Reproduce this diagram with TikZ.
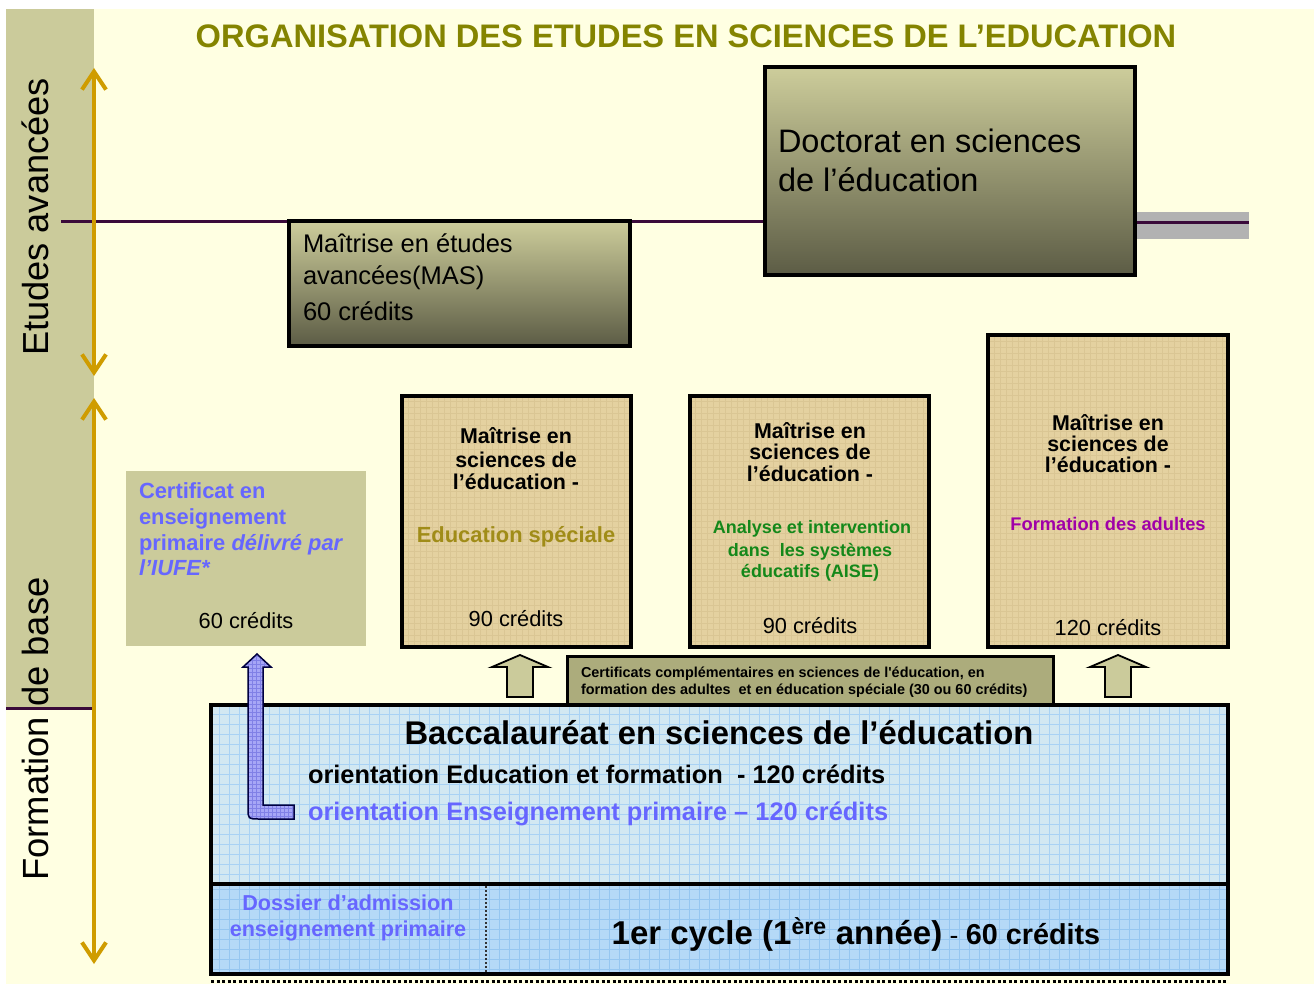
\documentclass[tikz,border=0pt]{standalone}
\usepackage{fontspec}
\setmainfont{Liberation Sans}
\usetikzlibrary{arrows.meta}
\pgfdeclarelayer{back}
\pgfdeclarelayer{lines}
\pgfsetlayers{back,lines,main}
\definecolor{bgyellow}{HTML}{FFFFE2}
\definecolor{band}{HTML}{CBCB9B}
\definecolor{olivetitle}{HTML}{848400}
\definecolor{gold}{HTML}{CF9C00}
\definecolor{plum}{HTML}{3A0A3A}
\definecolor{gtop}{HTML}{CDCD9B}
\definecolor{gbot}{HTML}{5C5C45}
\definecolor{papyrus}{HTML}{E4D1A0}
\definecolor{papyrusline}{HTML}{CDB682}
\definecolor{violetblue}{HTML}{6666FF}
\definecolor{edgold}{HTML}{A08C18}
\definecolor{aisegreen}{HTML}{14881A}
\definecolor{adultmag}{HTML}{A000A8}
\definecolor{certcomp}{HTML}{ACAC7C}
\definecolor{baccblue}{HTML}{D2E8F2}
\definecolor{baccgrid}{HTML}{A9D2F4}
\definecolor{cycleblue}{HTML}{B5D9F7}
\definecolor{cyclegrid}{HTML}{96C6F0}
\definecolor{arrowviolet}{HTML}{A6A6F6}
\definecolor{arrowgrid}{HTML}{8080E6}
\definecolor{grayband}{HTML}{B2B2B2}
\newcommand{\fsz}[1]{\fontsize{#1}{#1}\selectfont}
\tikzset{
  lbl/.style={inner sep=0pt, outer sep=0pt},
  boxbase/.style={draw=black, outer sep=0pt, inner sep=0pt, anchor=north west},
  darkbox/.style={boxbase, line width=4.5pt, top color=gtop, bottom color=gbot},
  papbox/.style={boxbase, line width=4pt, fill=papyrus,
    path picture={\draw[papyrusline, line width=0.5pt, step=6pt, opacity=0.4]
      (path picture bounding box.south west) grid (path picture bounding box.north east);}},
  certbox/.style={boxbase, draw=none, fill=band},
  compbox/.style={boxbase, line width=3pt, fill=certcomp},
  baccbox/.style={boxbase, line width=4pt, fill=baccblue,
    path picture={\draw[baccgrid, line width=0.6pt, step=10pt]
      (path picture bounding box.south west) grid (path picture bounding box.north east);}},
  cyclebox/.style={boxbase, line width=4pt, fill=cycleblue,
    path picture={\draw[cyclegrid, line width=0.6pt, step=10pt]
      (path picture bounding box.south west) grid (path picture bounding box.north east);}},
  goldarrow/.style={gold, line width=4pt, line cap=round,
    {Straight Barb[length=18pt,width=24pt]}-{Straight Barb[length=18pt,width=24pt]}},
  blockarrow/.style={fill=band, draw=black, line width=1.8pt, line join=miter},
  larrow/.style={fill=arrowviolet, draw=black!75!blue, line width=1.5pt,
    path picture={\draw[arrowgrid, line width=0.4pt, step=4pt]
      (path picture bounding box.south west) grid (path picture bounding box.north east);}},
  plumline/.style={plum, line width=3pt},
  dark/.style={lbl, font=\fsz{25.5}},
  mtitle/.style={lbl, anchor=base, font=\bfseries\fsz{21.4}},
  credit/.style={lbl, anchor=base, font=\fsz{21.8}},
}
\begin{document}
\begin{tikzpicture}[x=1pt,y=-1pt]
\useasboundingbox (0,0) rectangle (1314,984);
\begin{pgfonlayer}{back}
  \fill[white] (0,0) rectangle (1314,984);
  \fill[bgyellow] (6,9) rectangle (1314,984);
  \fill[band] (6,9) rectangle (94,708);
\end{pgfonlayer}

% title
\node[lbl, font=\bfseries\fsz{32.6}, text=olivetitle] (title) at (686,36)
  {ORGANISATION DES ETUDES EN SCIENCES DE L’EDUCATION};

% side labels
\node[lbl, rotate=90, font=\fsz{36.2}] (etav) at (35,217) {Etudes avancées};
\node[lbl, rotate=90, font=\fsz{36.4}] (fbase) at (35,729) {Formation de base};

% Doctorat
\node[darkbox, minimum width=370pt, minimum height=208pt] (doc) at (765,67) {};
\node[dark, anchor=base west, font=\fsz{32.5}] (doct1) at (778,153) {Doctorat en sciences};
\node[dark, anchor=base west, font=\fsz{32.5}] (doct2) at (778,192) {de l’éducation};

% MAS
\node[darkbox, minimum width=341pt, minimum height=125pt] (mas) at (289,221) {};
\node[dark, anchor=base west] (mas1) at (303,253) {Maîtrise en études};
\node[dark, anchor=base west] (mas2) at (303,284) {avancées(MAS)};
\node[dark, anchor=base west] (mas3) at (303,320) {60 crédits};

% horizontal purple lines
\coordinate (hlstart) at (61,222);
\coordinate (hlend) at (1249,223);
\coordinate (bandline) at (6,708);
\begin{pgfonlayer}{lines}
  \fill[grayband] (doc.east |- 0,212) rectangle (1249,239);
  \draw[plumline] (hlstart) -- (hlstart -| doc.west);
  \draw[plumline] (hlend -| doc.east) -- (hlend);
  \draw[plumline] (bandline) -- (92,708);
\end{pgfonlayer}

% gold arrows
\coordinate (ga1) at (94,68);
\coordinate (ga2) at (94,376);
\coordinate (gb1) at (94,398);
\coordinate (gb2) at (94,964);
\draw[goldarrow] (ga1) -- (ga2);
\draw[goldarrow] (gb1) -- (gb2);

% Certificat
\node[certbox, minimum width=240pt, minimum height=175pt] (cert) at (126,471) {};
\begin{scope}[every node/.style={lbl, anchor=base west, font=\bfseries\fsz{21.9}, text=violetblue}]
  \node (cert1) at (139,498) {Certificat en};
  \node (cert2) at (139,524) {enseignement};
  \node (cert3) at (139,550) {primaire \textit{délivré par}};
  \node (cert4) at (139,575) {\textit{l’IUFE*}};
\end{scope}
\node[credit] (cert5) at (246,628) {60 crédits};

% Maitrise boxes
\node[papbox, minimum width=229pt, minimum height=251pt] (m1) at (402,396) {};
\node[papbox, minimum width=239pt, minimum height=251pt] (m2) at (690,396) {};
\node[papbox, minimum width=240pt, minimum height=312pt] (m3) at (988,335) {};

\node[mtitle] (m1a) at (516,443) {Maîtrise en};
\node[mtitle] (m1b) at (516,467) {sciences de};
\node[mtitle] (m1c) at (516,489) {l’éducation -};
\node[mtitle, text=edgold, font=\bfseries\fsz{21.9}] (m1d) at (516,542) {Education spéciale};
\node[credit] (m1e) at (516,626) {90 crédits};

\node[mtitle] (m2a) at (810,438) {Maîtrise en};
\node[mtitle] (m2b) at (810,459) {sciences de};
\node[mtitle] (m2c) at (810,481) {l’éducation -};
\begin{scope}[every node/.style={lbl, anchor=base, font=\bfseries\fsz{18}, text=aisegreen}]
  \node (m2d) at (812,533) {Analyse et intervention};
  \node (m2e) at (810,556) {dans\ \ les systèmes};
  \node (m2f) at (810,577) {éducatifs (AISE)};
\end{scope}
\node[credit] (m2g) at (810,633) {90 crédits};

\node[mtitle] (m3a) at (1108,430) {Maîtrise en};
\node[mtitle] (m3b) at (1108,451) {sciences de};
\node[mtitle] (m3c) at (1108,472) {l’éducation -};
\node[lbl, anchor=base, font=\bfseries\fsz{18.3}, text=adultmag] (m3d) at (1108,530) {Formation des adultes};
\node[credit] (m3e) at (1108,635) {120 crédits};

% Certificats complementaires
\node[compbox, minimum width=486pt, minimum height=49pt] (comp) at (567,656) {};
\node[lbl, anchor=base west, font=\bfseries\fsz{14.4}] (comp1) at (581,677)
  {Certificats complémentaires en sciences de l\textquotesingle éducation, en};
\node[lbl, anchor=base west, font=\bfseries\fsz{14.4}] (comp2) at (581,694)
  {formation des adultes\ \ et en éducation spéciale (30 ou 60 crédits)};

% block arrows
\coordinate (aw1) at (520,655);
\coordinate (aw2) at (1118,655);
\foreach \c in {aw1,aw2}{
  \draw[blockarrow] (\c) -- ++(28,12) -- ++(-15,0) -- ++(0,30) -- ++(-26,0)
    -- ++(0,-30) -- ++(-15,0) -- cycle;
}

% Baccalaureat
\node[baccbox, minimum width=1017pt, minimum height=179pt] (bacc) at (211,705) {};
\node[lbl, anchor=base, font=\bfseries\fsz{32.8}] (bacc1) at (719,744)
  {Baccalauréat en sciences de l’éducation};
\node[lbl, anchor=base west, font=\bfseries\fsz{25.4}] (bacc2) at (308,783)
  {orientation Education et formation\ \ - 120 crédits};
\node[lbl, anchor=base west, font=\bfseries\fsz{25.4}, text=violetblue] (bacc3) at (308,820)
  {orientation Enseignement primaire – 120 crédits};

% 1er cycle
\node[cyclebox, minimum width=1017pt, minimum height=90pt] (cyc) at (211,884) {};
\coordinate (div) at (486,886);
\draw[black!80, line width=2pt, dash pattern=on 2pt off 2pt] (div) -- (div |- cyc.south);
\node[lbl, anchor=base, font=\bfseries\fsz{21.6}, text=violetblue] (dos1) at (348,910) {Dossier d’admission};
\node[lbl, anchor=base, font=\bfseries\fsz{21.6}, text=violetblue] (dos2) at (348,936) {enseignement primaire};
\node[lbl, anchor=base] (cyc1) at (856,944)
  {{\bfseries\fsz{33}1er cycle (1\textsuperscript{ère} année)}{\fsz{26.5} - }{\bfseries\fsz{28.8}60 crédits}};
\coordinate (dl) at (211,981);
\draw[black, line width=3pt, dash pattern=on 3pt off 2.5pt] (dl) -- (dl -| cyc.east);

% violet L arrow
\coordinate (lt) at (257,654);
\draw[larrow] (lt) -- (271,667) -- (263,667) -- (263,805) -- (294,805) -- (294,819)
  -- (259,819) .. controls (248,819) .. (248,808) -- (248,667) -- (243,667) -- cycle;
\end{tikzpicture}
\end{document}
